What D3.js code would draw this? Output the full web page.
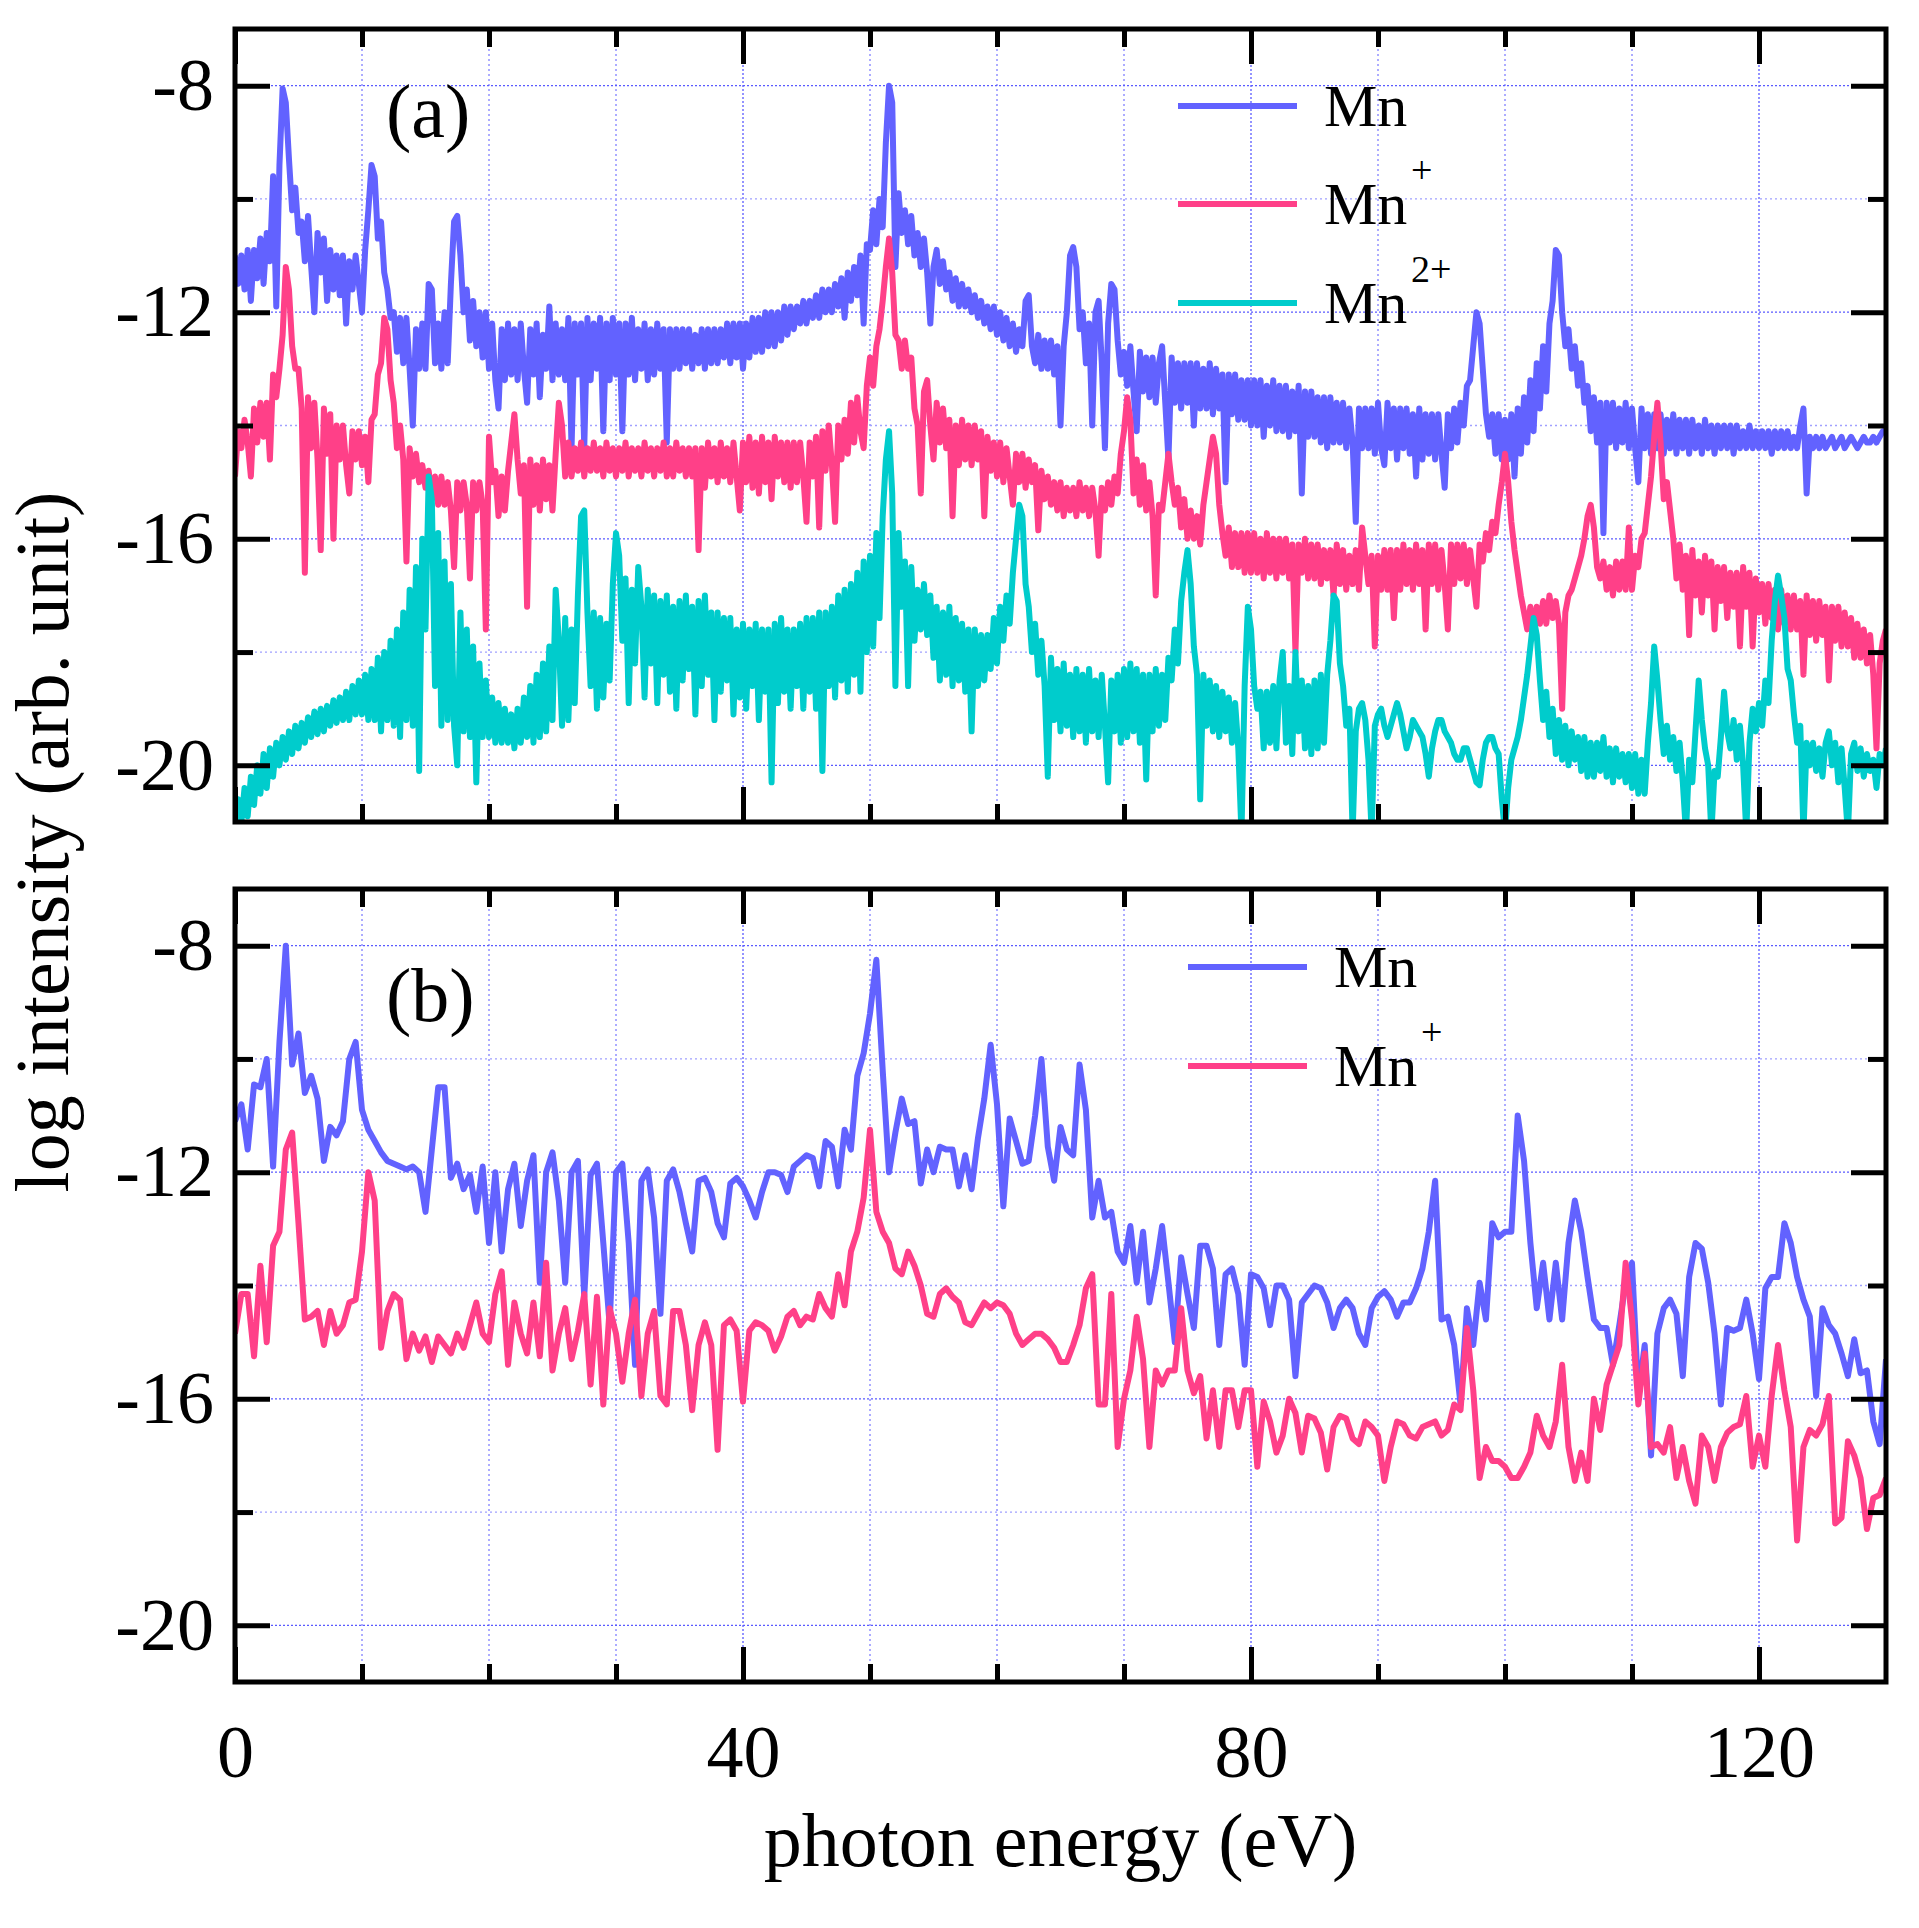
<!DOCTYPE html>
<html>
<head>
<meta charset="utf-8">
<script src="https://cdn.jsdelivr.net/npm/d3@7"></script>
<style>
body { margin: 0; background: #fff; }
text { font-family: "Liberation Serif", "Times New Roman", serif; fill: #000; }
</style>
</head>
<body>
<script>
// panel (a): log intensity, one value per 0.25 eV from 0 to 130 eV (rows of 10 eV)
var stepA = 0.25;
var mnA = [
  -11.0,-11.5,-11.0,-11.6,-10.9,-11.8,-10.9,-11.4,-10.7,-11.5,-10.6,-11.1,-9.6,-11.9,-9.4,-8.05,-8.3,-9.3,-10.2,-9.8,
  -10.6,-10.4,-11.1,-10.3,-11.2,-12.0,-10.6,-11.3,-10.7,-11.8,-10.9,-11.6,-11.0,-11.7,-11.0,-12.2,-11.1,-11.6,-11.0,-11.5,
  -12.0,-10.9,-10.2,-9.4,-9.6,-10.7,-10.4,-11.3,-11.6,-12.1,-12.0,-12.7,-12.1,-12.9,-12.1,-13.0,-14.0,-12.3,-13.0,-12.2,
  -13.0,-11.5,-11.6,-12.9,-12.2,-13.0,-12.0,-12.9,-11.5,-10.4,-10.3,-11.0,-12.0,-11.6,-12.5,-11.8,-12.6,-12.0,-12.8,-12.0,
  -13.0,-12.2,-13.2,-13.7,-12.3,-13.2,-12.2,-13.1,-12.3,-13.2,-12.2,-13.0,-13.6,-12.3,-13.1,-12.2,-13.5,-12.4,-13.0,-11.9,
  -13.2,-12.2,-13.1,-12.3,-13.2,-12.1,-14.4,-12.2,-13.1,-12.2,-14.4,-12.1,-13.2,-12.2,-13.0,-12.1,-14.1,-12.2,-13.2,-12.1,
  -13.1,-12.2,-14.1,-12.2,-13.1,-12.1,-13.2,-12.3,-13.0,-12.2,-13.2,-12.3,-13.1,-12.2,-13.0,-12.3,-14.3,-12.3,-13.0,-12.3,
  -13.0,-12.3,-12.9,-12.3,-13.0,-12.4,-12.9,-12.3,-13.0,-12.3,-12.9,-12.3,-12.9,-12.3,-12.8,-12.2,-12.9,-12.2,-12.8,-12.2,
  -13.0,-12.2,-12.8,-12.1,-12.7,-12.1,-12.7,-12.0,-12.6,-12.0,-12.6,-12.0,-12.5,-11.9,-12.4,-11.9,-12.3,-11.9,-12.2,-11.8,
  -12.2,-11.8,-12.1,-11.7,-12.1,-11.6,-12.0,-11.6,-12.0,-11.5,-11.9,-11.4,-12.1,-11.3,-11.8,-11.2,-11.7,-11.0,-12.2,-10.8,
  -10.9,-10.2,-10.8,-10.0,-10.5,-9.0,-8.0,-8.3,-11.2,-9.9,-10.6,-10.2,-10.8,-10.3,-11.0,-10.6,-11.2,-10.7,-11.3,-12.2,
  -11.2,-10.9,-11.5,-11.1,-11.6,-11.3,-11.8,-11.4,-11.9,-11.5,-11.9,-11.6,-12.0,-11.7,-12.1,-11.8,-12.2,-11.9,-12.3,-11.9,
  -12.4,-12.0,-12.5,-12.1,-12.6,-12.2,-12.7,-12.3,-12.6,-11.8,-11.7,-12.6,-12.9,-12.4,-13.0,-12.5,-13.0,-12.5,-13.1,-12.6,
  -14.0,-12.6,-12.0,-11.0,-10.85,-11.2,-12.3,-12.0,-12.9,-12.2,-14.0,-12.0,-11.8,-12.9,-14.4,-12.2,-11.5,-11.6,-12.5,-13.1,
  -12.7,-13.3,-12.6,-13.4,-14.1,-12.7,-13.4,-12.8,-13.5,-12.8,-13.6,-12.9,-12.6,-13.6,-14.6,-12.8,-13.6,-12.9,-13.7,-12.9,
  -13.6,-12.9,-14.0,-12.9,-13.7,-13.0,-13.7,-12.9,-13.8,-13.0,-13.7,-13.1,-15.0,-13.1,-13.8,-13.1,-13.9,-13.2,-13.9,-13.2,
  -14.0,-13.2,-14.0,-13.2,-14.2,-13.3,-14.0,-13.2,-14.1,-13.3,-14.1,-13.3,-14.2,-13.4,-14.1,-13.3,-15.2,-13.4,-14.2,-13.4,
  -14.2,-13.5,-14.3,-13.5,-14.4,-13.5,-14.3,-13.6,-14.3,-13.6,-14.4,-13.7,-14.3,-15.7,-13.7,-14.4,-13.7,-14.4,-13.7,-14.5,
  -13.6,-14.4,-14.7,-13.6,-14.4,-13.7,-14.6,-13.7,-14.4,-13.7,-14.5,-13.8,-14.9,-13.7,-14.6,-13.8,-14.5,-13.8,-14.6,-13.8,
  -14.5,-15.1,-13.8,-14.4,-13.7,-14.3,-13.6,-14.0,-13.3,-13.2,-12.6,-12.0,-12.2,-13.0,-13.8,-14.2,-13.8,-14.5,-13.8,-14.6,
  -13.9,-14.6,-13.8,-14.9,-13.7,-14.5,-13.5,-14.3,-13.2,-14.1,-12.9,-13.7,-12.6,-13.4,-12.2,-11.8,-10.9,-11.0,-12.0,-12.6,
  -12.3,-13.0,-12.6,-13.3,-12.9,-13.6,-13.3,-14.1,-13.5,-14.3,-13.6,-15.9,-13.6,-14.3,-13.6,-14.4,-13.7,-14.3,-13.6,-14.4,
  -13.7,-14.4,-15.0,-13.7,-14.4,-13.8,-14.5,-13.8,-14.4,-13.8,-14.5,-13.9,-14.4,-13.8,-14.5,-13.9,-14.4,-13.9,-14.5,-13.9,
  -14.4,-14.0,-14.5,-13.9,-14.4,-14.0,-14.5,-14.0,-14.4,-14.0,-14.4,-14.0,-14.5,-14.0,-14.4,-14.1,-14.4,-14.0,-14.4,-14.1,
  -14.4,-14.1,-14.4,-14.1,-14.5,-14.1,-14.4,-14.1,-14.4,-14.1,-14.4,-14.2,-14.4,-14.0,-13.7,-15.2,-14.2,-14.4,-14.2,-14.4,
  -14.2,-14.4,-14.3,-14.2,-14.4,-14.3,-14.2,-14.4,-14.3,-14.2,-14.3,-14.4,-14.3,-14.2,-14.3,-14.3,-14.2,-14.3,-14.2,-14.1,
  -14.1
];
var mnIonA = [
  -14.9,-14.1,-14.4,-13.9,-14.3,-14.9,-13.7,-14.3,-13.6,-14.2,-13.6,-14.6,-13.1,-13.5,-13.0,-12.4,-11.2,-11.6,-12.6,-13.0,
  -13.0,-13.7,-16.6,-13.5,-14.4,-13.6,-14.6,-16.2,-13.7,-14.5,-13.8,-16.0,-14.0,-14.6,-14.0,-14.7,-15.2,-14.1,-14.6,-14.1,
  -14.7,-14.2,-15.0,-13.9,-13.8,-13.1,-12.9,-12.1,-12.3,-13.2,-13.6,-14.4,-14.0,-14.6,-16.4,-14.4,-14.9,-14.5,-15.0,-14.7,
  -15.1,-14.8,-15.3,-14.9,-15.4,-14.9,-15.4,-15.0,-15.5,-16.5,-15.0,-15.5,-15.0,-15.4,-16.7,-15.0,-15.5,-15.0,-15.4,-17.6,
  -14.2,-15.0,-14.8,-15.6,-14.9,-15.5,-14.8,-14.3,-13.8,-14.6,-15.2,-14.7,-17.2,-14.6,-15.4,-14.7,-15.5,-14.6,-15.3,-14.7,
  -15.5,-14.5,-13.6,-14.0,-14.9,-14.3,-14.9,-14.4,-14.8,-14.3,-14.9,-14.4,-14.8,-14.3,-14.8,-14.4,-14.9,-14.3,-14.8,-14.4,
  -14.9,-14.4,-14.8,-14.3,-14.9,-14.4,-14.8,-14.4,-14.9,-14.3,-14.8,-14.4,-14.9,-14.4,-14.8,-14.3,-14.9,-14.4,-14.9,-14.3,
  -14.8,-14.4,-14.9,-14.4,-14.9,-14.4,-16.2,-14.4,-15.1,-14.3,-14.9,-14.4,-15.0,-14.3,-14.9,-14.4,-15.0,-14.3,-14.9,-15.5,
  -14.3,-15.0,-14.2,-15.1,-14.3,-15.2,-14.2,-15.0,-14.3,-15.3,-14.2,-14.9,-14.3,-15.0,-14.3,-15.1,-14.3,-15.0,-14.3,-14.9,
  -15.7,-14.3,-14.9,-14.2,-15.8,-14.1,-14.8,-14.0,-14.7,-15.7,-14.0,-14.6,-13.9,-14.5,-13.6,-14.3,-13.5,-14.1,-14.4,-13.3,
  -12.8,-13.3,-12.6,-12.3,-11.8,-11.2,-10.7,-11.3,-12.4,-12.5,-13.0,-12.5,-13.0,-12.8,-13.7,-14.0,-15.2,-13.4,-13.2,-14.0,
  -14.6,-13.6,-14.3,-13.7,-14.4,-13.9,-15.6,-14.0,-14.7,-13.9,-14.6,-14.0,-14.7,-14.0,-14.6,-14.1,-15.6,-14.2,-14.8,-14.3,
  -14.9,-14.3,-15.0,-14.4,-14.9,-15.4,-14.5,-15.0,-14.5,-15.1,-14.6,-15.0,-14.7,-15.85,-14.8,-15.3,-14.9,-15.4,-15.0,-15.5,
  -15.0,-15.6,-15.1,-15.5,-15.1,-15.6,-15.0,-15.5,-15.1,-15.6,-15.1,-15.5,-16.3,-15.1,-15.5,-15.0,-15.4,-14.9,-15.2,-14.5,
  -14.1,-13.5,-13.9,-15.2,-14.6,-15.4,-14.7,-15.5,-15.0,-15.6,-17.0,-15.4,-15.5,-15.0,-14.5,-15.0,-15.4,-15.1,-15.8,-15.3,
  -16.0,-15.5,-16.0,-15.6,-16.1,-15.4,-15.0,-14.6,-14.2,-14.5,-15.4,-15.9,-16.3,-15.8,-16.5,-15.9,-16.5,-15.9,-16.6,-15.9,
  -16.6,-15.9,-16.6,-16.0,-16.7,-15.9,-16.6,-16.0,-16.7,-16.0,-16.6,-16.0,-16.7,-16.1,-18.0,-16.1,-16.6,-16.0,-16.7,-16.1,
  -16.7,-16.1,-16.8,-16.2,-16.7,-16.2,-17.0,-16.1,-16.8,-16.2,-16.9,-16.3,-16.8,-16.2,-16.9,-15.8,-16.3,-16.8,-16.3,-17.9,
  -16.3,-16.9,-16.2,-16.9,-16.2,-17.4,-16.2,-16.9,-16.1,-16.8,-16.2,-16.9,-16.1,-16.8,-16.2,-17.6,-16.1,-16.8,-16.1,-16.9,
  -16.2,-16.8,-17.6,-16.1,-16.8,-16.1,-16.7,-16.1,-16.8,-16.2,-16.7,-17.2,-16.1,-16.4,-15.9,-16.2,-15.7,-15.9,-15.4,-15.0,
  -14.5,-15.0,-15.7,-16.2,-16.6,-17.0,-17.3,-17.6,-17.2,-17.7,-17.2,-17.5,-17.1,-17.5,-17.0,-17.4,-17.1,-17.5,-19.0,-17.3,
  -17.0,-16.9,-16.7,-16.5,-16.3,-16.0,-15.6,-15.4,-15.8,-16.5,-16.7,-16.4,-16.9,-16.5,-17.0,-16.4,-16.9,-16.4,-16.9,-15.8,
  -16.9,-16.3,-16.5,-16.0,-15.9,-15.4,-14.9,-14.2,-13.6,-14.3,-15.3,-15.0,-15.5,-16.0,-16.7,-16.1,-16.9,-16.3,-17.7,-16.2,
  -17.0,-16.4,-17.3,-16.3,-17.0,-16.4,-17.6,-16.5,-17.1,-16.5,-17.4,-16.6,-17.2,-16.6,-17.9,-16.5,-17.2,-16.6,-17.9,-16.7,
  -17.3,-16.8,-17.5,-16.8,-17.4,-16.9,-17.6,-16.9,-17.5,-17.0,-17.6,-17.0,-17.6,-17.1,-18.4,-17.0,-17.7,-17.1,-17.8,-17.1,
  -17.7,-17.2,-18.5,-17.2,-17.8,-17.2,-17.9,-17.3,-17.9,-17.4,-18.1,-17.5,-18.1,-17.6,-18.2,-17.7,-18.4,-19.7,-18.2,-17.8,
  -17.6
];
var mn2IonA = [
  -21.1,-20.6,-21.0,-20.4,-20.9,-20.2,-20.7,-20.0,-20.5,-19.8,-20.4,-19.7,-20.2,-19.6,-20.0,-19.5,-19.9,-19.4,-19.8,-19.3,
  -19.7,-19.25,-19.6,-19.15,-19.5,-19.05,-19.45,-19.0,-19.4,-18.95,-19.3,-18.85,-19.25,-18.8,-19.2,-18.7,-19.2,-18.6,-19.1,-18.5,
  -19.1,-18.4,-19.2,-18.3,-19.2,-18.1,-19.4,-18.0,-19.2,-17.8,-19.3,-17.6,-19.5,-17.3,-19.2,-16.9,-19.3,-16.5,-20.1,-16.0,
  -17.6,-14.9,-15.3,-18.6,-15.9,-19.3,-16.4,-19.2,-16.8,-19.3,-20.0,-17.3,-19.4,-17.6,-19.5,-17.9,-20.3,-18.2,-19.5,-18.5,
  -19.5,-18.8,-19.6,-18.9,-19.6,-19.0,-19.6,-19.1,-19.7,-19.0,-19.6,-18.8,-19.5,-18.6,-19.6,-18.4,-19.5,-18.2,-19.4,-17.9,
  -19.2,-16.9,-17.8,-19.3,-17.4,-19.2,-17.6,-18.9,-17.0,-15.6,-15.5,-17.3,-18.6,-17.3,-19.0,-17.4,-18.8,-17.5,-18.5,-16.8,
  -15.9,-16.3,-17.8,-16.7,-18.9,-16.9,-18.2,-16.5,-17.2,-18.8,-16.9,-18.2,-17.0,-18.9,-17.1,-18.4,-17.0,-18.7,-17.2,-19.0,
  -17.1,-18.5,-17.0,-18.3,-17.2,-19.1,-17.1,-18.6,-17.0,-18.4,-17.3,-19.2,-17.3,-18.7,-17.4,-18.5,-17.4,-19.1,-17.6,-18.8,
  -17.5,-19.0,-17.6,-18.6,-17.5,-19.2,-17.6,-18.7,-17.6,-20.3,-17.5,-18.9,-17.4,-18.7,-17.6,-19.0,-17.6,-18.6,-17.5,-19.0,
  -17.4,-18.7,-17.4,-19.0,-17.3,-20.1,-17.3,-18.6,-17.2,-18.8,-17.0,-18.5,-16.9,-18.7,-16.8,-18.4,-16.6,-18.7,-16.4,-18.0,
  -16.3,-17.9,-15.9,-17.4,-15.6,-14.6,-14.1,-15.2,-18.6,-15.9,-17.2,-16.4,-18.6,-16.5,-17.8,-16.9,-17.6,-16.8,-17.7,-17.0,
  -18.1,-17.2,-18.5,-17.3,-18.4,-17.2,-18.6,-17.4,-18.5,-17.5,-18.7,-17.6,-19.4,-17.6,-18.6,-17.7,-18.5,-17.7,-18.3,-17.4,
  -18.2,-17.2,-17.8,-17.0,-17.5,-16.6,-16.0,-15.4,-15.6,-16.8,-17.2,-18.0,-17.5,-18.4,-17.8,-18.6,-20.2,-18.1,-19.2,-18.3,
  -19.4,-18.2,-19.3,-18.4,-19.5,-18.3,-19.4,-18.4,-19.6,-18.3,-19.4,-18.5,-19.5,-18.4,-19.3,-20.3,-18.5,-19.4,-18.4,-19.6,
  -18.3,-19.5,-18.2,-19.4,-18.3,-19.6,-18.4,-20.25,-18.4,-19.4,-18.3,-19.3,-18.4,-19.2,-18.1,-18.5,-17.6,-18.2,-17.1,-16.6,
  -16.2,-16.8,-17.9,-18.4,-20.6,-18.4,-19.3,-18.5,-19.4,-18.6,-19.5,-18.7,-19.4,-18.8,-19.6,-18.9,-19.7,-21.2,-18.6,-17.2,
  -17.6,-18.6,-19.0,-18.7,-19.7,-18.7,-19.6,-18.6,-19.7,-18.5,-18.0,-19.6,-18.6,-19.8,-18.0,-19.4,-18.5,-19.7,-18.6,-19.8,
  -18.5,-19.7,-18.4,-19.6,-18.4,-17.8,-17.0,-17.1,-18.2,-18.6,-19.3,-19.0,-21.2,-19.4,-19.0,-18.9,-19.2,-19.9,-21.2,-19.3,
  -19.1,-19.0,-19.3,-19.5,-19.3,-19.1,-18.9,-19.1,-19.4,-19.7,-19.5,-19.2,-19.3,-19.4,-19.5,-19.8,-20.2,-19.7,-19.4,-19.2,
  -19.2,-19.4,-19.5,-19.6,-19.8,-19.9,-19.9,-19.7,-19.7,-19.9,-20.1,-20.3,-20.35,-19.9,-19.6,-19.5,-19.5,-19.7,-19.8,-20.6,
  -21.2,-20.4,-19.9,-19.7,-19.5,-19.2,-18.8,-18.4,-17.9,-17.4,-17.7,-18.5,-19.2,-18.7,-19.5,-19.0,-19.8,-19.2,-19.9,-19.3,
  -20.0,-19.4,-19.9,-19.5,-20.1,-19.5,-20.2,-19.6,-20.2,-19.6,-20.1,-19.5,-20.2,-19.7,-20.3,-19.7,-20.2,-19.8,-20.3,-19.8,
  -20.4,-19.8,-20.5,-19.9,-20.5,-19.6,-18.9,-17.9,-18.5,-19.2,-19.8,-19.3,-19.9,-19.5,-20.1,-19.6,-20.3,-21.2,-19.9,-20.3,
  -19.4,-18.5,-19.2,-19.7,-20.0,-21.2,-20.1,-20.2,-19.5,-18.7,-19.4,-19.7,-19.2,-19.9,-19.3,-20.0,-21.2,-19.6,-19.0,-19.4,
  -18.9,-19.3,-18.5,-18.9,-17.8,-17.1,-16.65,-17.0,-17.4,-18.3,-18.5,-19.1,-19.6,-19.3,-21.2,-19.6,-20.0,-19.6,-20.1,-19.7,
  -20.2,-19.6,-19.4,-20.0,-19.6,-20.3,-19.7,-20.4,-21.2,-19.8,-19.6,-20.1,-19.7,-20.2,-19.8,-20.1,-19.9,-20.4,-19.8,-20.0,
  -19.7
];

// panel (b): log intensity, one value per 0.5 eV from 0 to 130 eV
var stepB = 0.5;
var mnB = [
  -11.1,-10.8,-11.6,-10.45,-10.5,-10.0,-11.9,-9.7,-8.0,-10.1,-9.55,-10.6,-10.3,-10.7,-11.8,-11.2,-11.35,-11.1,-10.0,-9.7,
  -10.9,-11.25,-11.45,-11.65,-11.8,-11.85,-11.9,-11.95,-11.9,-12.0,-12.7,-11.6,-10.5,-10.5,-12.1,-11.85,-12.3,-12.05,-12.7,-11.9,
  -13.25,-12.0,-13.4,-12.3,-11.85,-12.95,-12.15,-11.7,-13.95,-12.0,-11.65,-12.5,-13.95,-12.0,-11.8,-14.2,-12.05,-11.85,-13.25,-14.7,
  -12.0,-11.85,-13.25,-15.4,-12.15,-11.95,-12.8,-14.5,-12.15,-11.95,-12.35,-12.9,-13.4,-12.15,-12.1,-12.35,-12.9,-13.15,-12.2,-12.1,
  -12.25,-12.5,-12.8,-12.35,-12.0,-12.0,-12.05,-12.35,-11.9,-11.8,-11.7,-11.75,-12.25,-11.45,-11.55,-12.25,-11.25,-11.6,-10.3,-9.9,
  -9.2,-8.25,-10.2,-12.0,-11.3,-10.7,-11.15,-11.1,-12.2,-11.6,-12.0,-11.55,-11.6,-11.6,-12.25,-11.7,-12.3,-11.4,-10.7,-9.75,
  -10.8,-12.6,-11.05,-11.45,-11.85,-11.8,-11.0,-10.0,-11.55,-12.15,-11.2,-11.6,-11.7,-10.1,-10.9,-12.8,-12.15,-12.8,-12.7,-13.4,
  -13.6,-12.95,-13.95,-13.05,-14.3,-13.7,-12.95,-13.95,-15.0,-13.5,-14.15,-14.75,-13.3,-13.3,-13.7,-15.05,-13.8,-13.7,-14.15,-15.4,
  -13.8,-13.85,-14.05,-14.7,-14.0,-14.0,-14.25,-15.6,-14.3,-14.15,-14.0,-14.05,-14.3,-14.75,-14.4,-14.25,-14.4,-14.85,-15.05,-14.4,
  -14.2,-14.1,-14.25,-14.55,-14.3,-14.3,-14.05,-13.7,-13.05,-12.15,-14.6,-14.55,-15.05,-16.1,-14.4,-15.05,-13.95,-14.6,-12.9,-13.15,
  -13.05,-13.05,-11.0,-11.8,-13.25,-14.4,-13.6,-14.6,-13.6,-14.6,-13.25,-12.5,-13.05,-13.85,-14.6,-14.75,-14.75,-15.4,-14.7,-13.95,
  -13.6,-15.95,-15.05,-17.0,-14.85,-14.4,-14.25,-14.5,-15.6,-13.85,-13.25,-13.35,-13.95,-14.85,-16.1,-14.75,-14.8,-14.75,-14.25,-14.85,
  -15.65,-14.05,-13.85,-13.85,-12.9,-13.25,-13.85,-14.25,-14.55,-15.95,-14.4,-14.7,-14.85,-15.2,-15.6,-14.95,-15.55,-15.5,-16.4,-16.8,
  -15.3
];
var mnIonB = [
  -14.85,-14.15,-14.15,-15.25,-13.65,-15.0,-13.3,-13.05,-11.6,-11.3,-12.9,-14.6,-14.55,-14.45,-15.05,-14.45,-14.85,-14.7,-14.3,-14.25,
  -13.4,-12.0,-12.5,-15.1,-14.45,-14.15,-14.25,-15.3,-14.85,-15.15,-14.9,-15.35,-14.9,-15.05,-15.2,-14.85,-15.1,-14.7,-14.3,-14.85,
  -15.0,-14.15,-13.75,-15.4,-14.3,-14.85,-15.2,-14.3,-15.25,-13.6,-15.5,-14.85,-14.4,-15.3,-14.8,-14.15,-15.75,-14.2,-16.1,-14.4,
  -14.85,-15.7,-14.85,-14.25,-15.95,-14.85,-14.45,-15.95,-16.1,-14.45,-14.45,-15.05,-16.2,-15.05,-14.65,-15.05,-16.9,-14.7,-14.6,-14.8,
  -16.05,-14.8,-14.65,-14.7,-14.8,-15.15,-14.9,-14.55,-14.45,-14.7,-14.55,-14.6,-14.15,-14.4,-14.55,-13.8,-14.35,-13.4,-13.05,-12.45,
  -11.25,-12.7,-13.05,-13.25,-13.7,-13.8,-13.4,-13.65,-14.0,-14.5,-14.55,-14.15,-14.05,-14.2,-14.3,-14.65,-14.7,-14.5,-14.3,-14.4,
  -14.3,-14.35,-14.5,-14.85,-15.05,-14.95,-14.85,-14.85,-14.95,-15.1,-15.35,-15.35,-15.05,-14.7,-14.05,-13.8,-16.1,-16.1,-14.15,-16.85,
  -16.0,-15.5,-14.55,-15.3,-16.85,-15.5,-15.75,-15.5,-15.5,-14.4,-15.5,-15.9,-15.6,-16.7,-15.85,-16.85,-15.85,-15.85,-16.5,-15.85,
  -15.85,-17.2,-16.05,-16.4,-16.95,-16.65,-16.0,-16.25,-16.95,-16.3,-16.35,-16.6,-17.25,-16.5,-16.3,-16.35,-16.7,-16.8,-16.4,-16.5,
  -16.65,-17.45,-16.85,-16.4,-16.45,-16.65,-16.7,-16.5,-16.45,-16.4,-16.65,-16.55,-16.1,-16.2,-14.75,-15.85,-17.4,-16.85,-17.1,-17.1,
  -17.2,-17.4,-17.4,-17.2,-16.95,-16.3,-16.65,-16.85,-16.4,-15.4,-16.85,-17.45,-16.95,-17.45,-16.0,-16.55,-15.75,-15.4,-15.05,-13.6,
  -14.6,-16.1,-15.2,-16.85,-16.8,-16.95,-16.5,-17.4,-16.85,-17.45,-17.85,-16.65,-16.85,-17.45,-16.85,-16.6,-16.5,-16.45,-15.95,-17.2,
  -16.65,-17.2,-15.95,-15.05,-15.85,-16.5,-18.5,-16.85,-16.55,-16.65,-16.45,-15.95,-18.2,-18.1,-16.75,-17.0,-17.4,-18.3,-17.75,-17.7,
  -17.4
];

var seriesNames = ["Mn", "Mn", "Mn"];
var seriesCharge = ["", "+", "2+"];
var colors = ["#6262ff", "#ff4088", "#00cccc"];

var yMajor = [-8, -12, -16, -20];
var yMinor = [-10, -14, -18];
var xMajor = [0, 40, 80, 120];
var xMinor = [10, 20, 30, 50, 60, 70, 90, 100, 110];

var lineWidth = 6;

var svg = d3.select("body")
    .append("svg")
    .attr("width", 1919)
    .attr("height", 1928);

var x = d3.scaleLinear().domain([0, 130]).range([235, 1886]);

var panels = [
  {id: "a", top: 29, bottom: 822, tag: "(a)", tagY: 137, step: stepA, data: [mnA, mnIonA, mn2IonA], legX: 1178, legY: [106, 204, 303], labels: false},
  {id: "b", top: 889, bottom: 1682, tag: "(b)", tagY: 1021, step: stepB, data: [mnB, mnIonB], legX: 1188, legY: [967, 1066], labels: true}
];

function styleAxis(g) {
  g.select(".domain").remove();
  g.selectAll(".tick line").attr("stroke", "#000").attr("stroke-width", 5);
  g.selectAll(".tick text").attr("font-size", 74).attr("font-family", "Liberation Serif");
}

panels.forEach(function(p) {
  var y = d3.scaleLinear().domain([-21, -7]).range([p.bottom, p.top]);
  var g = svg.append("g");

  g.append("clipPath").attr("id", "clip" + p.id)
    .append("rect")
    .attr("x", x(0)).attr("y", p.top)
    .attr("width", x(130) - x(0)).attr("height", p.bottom - p.top);

  // dotted grid
  var grid = g.append("g");
  grid.selectAll(".vx").data(xMinor.concat(xMajor))
    .enter().append("line")
    .attr("x1", d => x(d)).attr("x2", d => x(d))
    .attr("y1", p.top).attr("y2", p.bottom)
    .attr("stroke", d => d % 40 === 0 ? "#5a5aff" : "#8080ff")
    .attr("stroke-width", 1.3)
    .attr("stroke-dasharray", d => d % 40 === 0 ? "2,2" : "2,3");
  grid.selectAll(".hy").data(yMinor.concat(yMajor))
    .enter().append("line")
    .attr("x1", x(0)).attr("x2", x(130))
    .attr("y1", d => y(d)).attr("y2", d => y(d))
    .attr("stroke", d => d % 4 === 0 ? "#5a5aff" : "#a0a0ff")
    .attr("stroke-width", 1.3)
    .attr("stroke-dasharray", d => d % 4 === 0 ? "2,2" : "2,3");

  var line = d3.line()
    .x((d, i) => x(i * p.step))
    .y(d => y(d));

  g.append("g").attr("clip-path", "url(#clip" + p.id + ")")
    .selectAll("path").data(p.data)
    .enter().append("path")
    .attr("d", d => line(d))
    .attr("fill", "none")
    .attr("stroke", (d, i) => colors[i])
    .attr("stroke-width", lineWidth)
    .attr("stroke-linejoin", "round");

  // inward ticks on all four sides
  g.append("g").attr("transform", "translate(" + x(0) + ",0)")
    .call(d3.axisLeft(y).tickValues(yMajor).tickSize(-35).tickPadding(21).tickFormat(d => String(d)))
    .call(styleAxis);
  g.append("g").attr("transform", "translate(" + x(0) + ",0)")
    .call(d3.axisLeft(y).tickValues(yMinor).tickSize(-18).tickFormat(""))
    .call(styleAxis);
  g.append("g").attr("transform", "translate(" + x(130) + ",0)")
    .call(d3.axisRight(y).tickValues(yMajor).tickSize(-35).tickFormat(""))
    .call(styleAxis);
  g.append("g").attr("transform", "translate(" + x(130) + ",0)")
    .call(d3.axisRight(y).tickValues(yMinor).tickSize(-18).tickFormat(""))
    .call(styleAxis);
  g.append("g").attr("transform", "translate(0," + p.top + ")")
    .call(d3.axisTop(x).tickValues(xMajor).tickSize(-35).tickFormat(""))
    .call(styleAxis);
  g.append("g").attr("transform", "translate(0," + p.top + ")")
    .call(d3.axisTop(x).tickValues(xMinor).tickSize(-18).tickFormat(""))
    .call(styleAxis);
  g.append("g").attr("transform", "translate(0," + p.bottom + ")")
    .call(d3.axisBottom(x).tickValues(xMajor).tickSize(-35).tickPadding(42)
      .tickFormat(p.labels ? (d => String(d)) : ""))
    .call(styleAxis);
  g.append("g").attr("transform", "translate(0," + p.bottom + ")")
    .call(d3.axisBottom(x).tickValues(xMinor).tickSize(-18).tickFormat(""))
    .call(styleAxis);

  g.append("rect")
    .attr("x", x(0)).attr("y", p.top)
    .attr("width", x(130) - x(0)).attr("height", p.bottom - p.top)
    .attr("fill", "none").attr("stroke", "#000").attr("stroke-width", 5);

  g.append("text")
    .attr("x", 386).attr("y", p.tagY)
    .attr("font-size", 76)
    .text(p.tag);

  // legend
  p.data.forEach(function(d, i) {
    var ly = p.legY[i];
    g.append("line")
      .attr("x1", p.legX).attr("x2", p.legX + 119)
      .attr("y1", ly).attr("y2", ly)
      .attr("stroke", colors[i]).attr("stroke-width", lineWidth);
    g.append("text")
      .attr("x", p.legX + 146).attr("y", ly + 20)
      .attr("font-size", 60)
      .text(seriesNames[i]);
    if (seriesCharge[i]) {
      g.append("text")
        .attr("x", p.legX + 233).attr("y", ly - 21)
        .attr("font-size", 38)
        .text(seriesCharge[i]);
    }
  });
});

svg.append("text")
  .attr("x", x(65)).attr("y", 1866)
  .attr("text-anchor", "middle")
  .attr("font-size", 76)
  .text("photon energy (eV)");

svg.append("text")
  .attr("transform", "translate(68,842) rotate(-90)")
  .attr("text-anchor", "middle")
  .attr("font-size", 76)
  .text("log intensity (arb. unit)");
</script>
</body>
</html>
